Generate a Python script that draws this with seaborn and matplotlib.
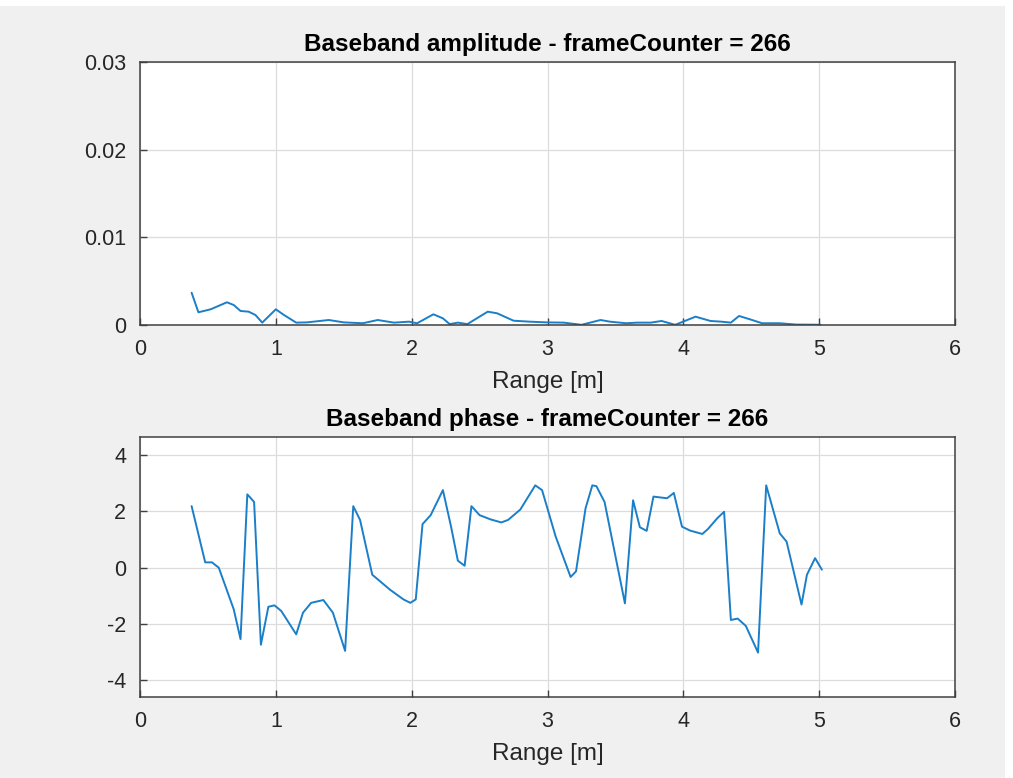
import matplotlib
matplotlib.use("Agg")
import matplotlib.pyplot as plt
from matplotlib.patches import Rectangle
import seaborn as sns
import pandas as pd

amp_range = [0.38, 0.43, 0.52, 0.64, 0.69, 0.74, 0.80, 0.85, 0.90, 1.00, 1.06, 1.15, 1.23, 1.39,
             1.50, 1.64, 1.75, 1.87, 1.98, 2.04, 2.16, 2.23, 2.28, 2.34, 2.41, 2.56, 2.63, 2.75,
             2.87, 2.99, 3.12, 3.25, 3.39, 3.46, 3.58, 3.66, 3.76, 3.84, 3.94, 4.09, 4.20, 4.28,
             4.35, 4.41, 4.49, 4.58, 4.71, 4.83, 5.01]
amp_values = [0.00368, 0.00145, 0.00179, 0.00259, 0.00228, 0.00160, 0.00152, 0.00114, 0.00027,
              0.00179, 0.00114, 0.00027, 0.00030, 0.00057, 0.00030, 0.00020, 0.00057, 0.00027,
              0.00038, 0.00020, 0.00122, 0.00076, 0.00010, 0.00027, 0.00010, 0.00152, 0.00133,
              0.00049, 0.00038, 0.00030, 0.00027, 0.00002, 0.00057, 0.00038, 0.00020, 0.00027,
              0.00027, 0.00046, 0.00002, 0.00095, 0.00046, 0.00038, 0.00027, 0.00103, 0.00065,
              0.00020, 0.00020, 0.00005, 0.00003]

phase_range = [0.38, 0.48, 0.53, 0.58, 0.69, 0.74, 0.79, 0.84, 0.89, 0.945, 0.99, 1.04, 1.15,
               1.20, 1.26, 1.35, 1.42, 1.51, 1.57, 1.62, 1.71, 1.84, 1.94, 1.99, 2.03, 2.08,
               2.14, 2.23, 2.29, 2.34, 2.39, 2.44, 2.50, 2.58, 2.66, 2.71, 2.80, 2.91, 2.96,
               3.06, 3.17, 3.21, 3.28, 3.33, 3.36, 3.42, 3.57, 3.63, 3.68, 3.73, 3.78, 3.88,
               3.93, 3.99, 4.05, 4.14, 4.18, 4.25, 4.30, 4.35, 4.40, 4.46, 4.55, 4.61, 4.71,
               4.76, 4.87, 4.91, 4.97, 5.02]
phase_values = [2.19, 0.19, 0.19, 0.00, -1.48, -2.54, 2.61, 2.34, -2.74, -1.39, -1.34, -1.54,
                -2.37, -1.60, -1.25, -1.15, -1.60, -2.96, 2.19, 1.70, -0.25, -0.78, -1.13, -1.25,
                -1.13, 1.55, 1.87, 2.76, 1.46, 0.25, 0.07, 2.19, 1.87, 1.72, 1.61, 1.70, 2.07,
                2.93, 2.76, 1.11, -0.33, -0.13, 2.11, 2.93, 2.90, 2.34, -1.27, 2.40, 1.44, 1.31,
                2.53, 2.47, 2.66, 1.46, 1.32, 1.20, 1.37, 1.76, 1.99, -1.86, -1.81, -2.07, -3.02,
                2.93, 1.22, 0.93, -1.31, -0.25, 0.34, -0.07]

x_ticks = [0, 1, 2, 3, 4, 5, 6]
amp_ticks = [0, 0.01, 0.02, 0.03]
amp_tick_labels = ['0', '0.01', '0.02', '0.03']
phase_ticks = [-4, -2, 0, 2, 4]
phase_tick_labels = ['-4', '-2', '0', '2', '4']

frame_counter = 266

sns.set_style("ticks")
plt.rcParams['font.family'] = ['Liberation Sans', 'DejaVu Sans']

W, H = 1013, 778
fig = plt.figure(figsize=(W / 100, H / 100), dpi=100, facecolor='white')
fig.patches.append(Rectangle((0, 0), 1005 / W, 772 / H, transform=fig.transFigure,
                             facecolor='#f0f0f0', edgecolor='none', zorder=-10))

def add_ax(left, top, right, bottom):
    return fig.add_axes([left / W, 1 - bottom / H, (right - left) / W, (bottom - top) / H])

ax1 = add_ax(140, 62, 955, 325)
ax2 = add_ax(140, 437, 955, 697)

line_color = '#1a7fc8'
text_color = '#262626'
df_amp = pd.DataFrame({'range': amp_range, 'amp': amp_values})
df_ph = pd.DataFrame({'range': phase_range, 'phase': phase_values})

sns.lineplot(data=df_amp, x='range', y='amp', ax=ax1, color=line_color, linewidth=1.4, sort=False)
sns.lineplot(data=df_ph, x='range', y='phase', ax=ax2, color=line_color, linewidth=1.4, sort=False)

for ax in (ax1, ax2):
    ax.set_facecolor('white')
    ax.set_xlim(0, 6)
    ax.set_xticks(x_ticks)
    ax.grid(True, color='#dcdcdc', linewidth=0.9)
    ax.set_axisbelow(True)
    ax.tick_params(direction='in', length=5, width=1, labelsize=15.5, colors='#404040',
                   labelcolor=text_color, top=False, right=False, pad=10)
    for s in ax.spines.values():
        s.set_color('#404040')
        s.set_linewidth(1.1)
        s.set_visible(True)
    ax.set_xlabel('Range [m]', fontsize=17.5, color=text_color, labelpad=8)
    ax.set_ylabel('')

ax1.set_ylim(0, 0.03)
ax1.set_yticks(amp_ticks)
ax1.set_yticklabels(amp_tick_labels)
ax1.set_title(f'Baseband amplitude - frameCounter = {frame_counter}', fontsize=17.5,
              fontweight='bold', pad=8, color='black')

ax2.set_ylim(-4.6, 4.65)
ax2.set_yticks(phase_ticks)
ax2.set_yticklabels(phase_tick_labels)
ax2.set_title(f'Baseband phase - frameCounter = {frame_counter}', fontsize=17.5,
              fontweight='bold', pad=8, color='black')

fig.savefig('out.png', dpi=100, facecolor=fig.get_facecolor())
